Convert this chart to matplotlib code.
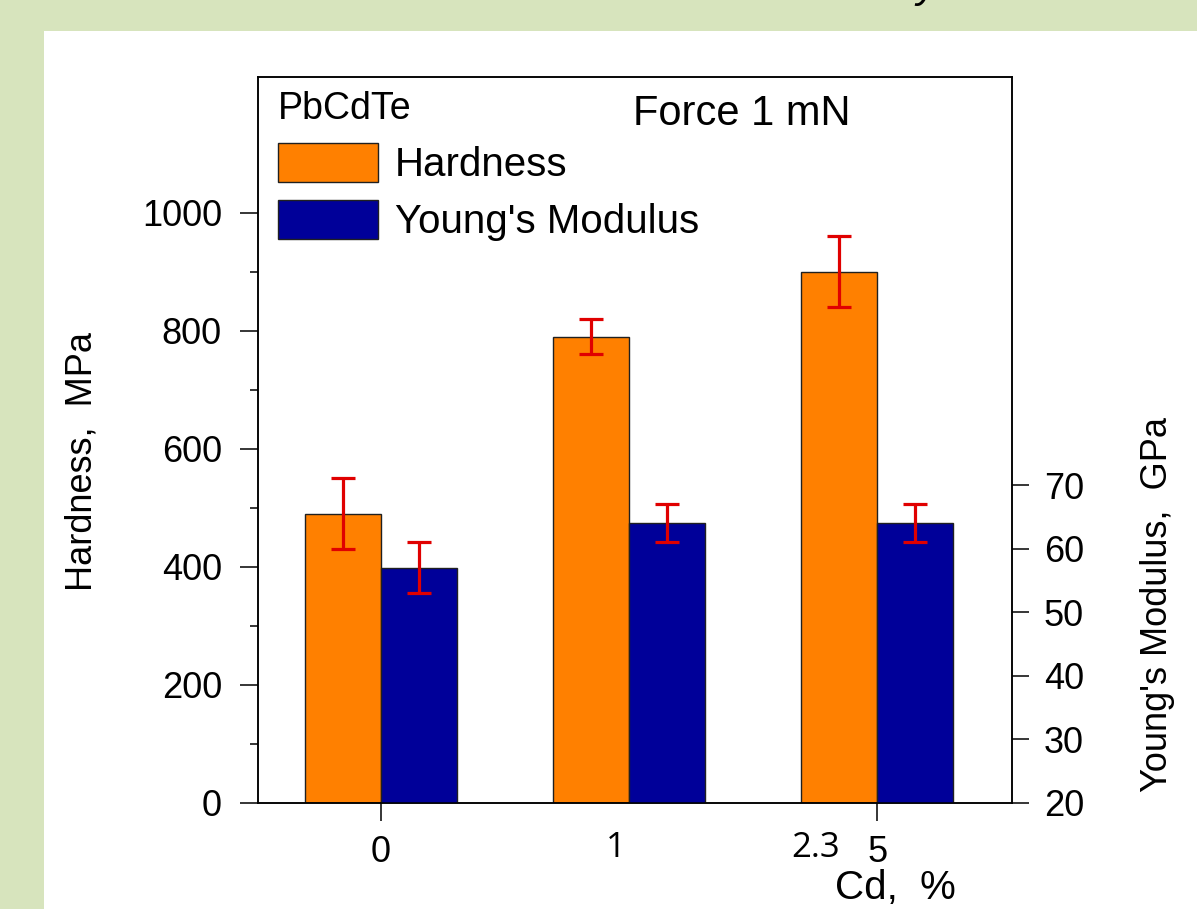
import matplotlib
matplotlib.use('Agg')
import matplotlib.pyplot as plt
from matplotlib.patches import Rectangle
import matplotlib.transforms as mtransforms

plt.rcParams['font.family'] = ['Liberation Sans', 'DejaVu Sans']

groups = [0, 1, 2]
hardness = [490, 790, 900]
hardness_err = [60, 30, 60]
young = [57, 64, 64]
young_err = [4, 3, 3]
tick_pos = [0, 2]
tick_labels = ['0', '5']
extra_labels = [(0.948, '1'), (1.75, '2.3')]

W, H = 1197, 909
fig = plt.figure(figsize=(W / 100, H / 100), dpi=100)
fig.patch.set_facecolor('#d7e4bd')
fig.patches.append(Rectangle((44 / W, 0), 1 - 44 / W, 1 - 31 / H, transform=fig.transFigure,
                             facecolor='white', edgecolor='none', zorder=-10))
# descender of a cut-off title line
fig.text(927 / W, 1 + 3 / H, 'y', fontsize=30, va='baseline', ha='center', style='italic')

ax = fig.add_axes([258 / W, 1 - 803 / H, (1012 - 258) / W, (803 - 77) / H])
ax.set_facecolor('none')
ax2 = ax.twinx()

bw = 0.305
err_kw = dict(ecolor='#e00000', elinewidth=2.3, capsize=8.3, capthick=2.3)
hb = ax.bar([g - bw / 2 for g in groups], hardness, bw, yerr=hardness_err, color='#ff8000',
            edgecolor='#202020', linewidth=1.0, label='Hardness', error_kw=err_kw)
yb = ax2.bar([g + bw / 2 for g in groups], young, bw, yerr=young_err, color='#000099',
             edgecolor='#202020', linewidth=1.0, label="Young's Modulus", error_kw=err_kw)

ax.set_xlim(-0.496, 2.544)
ax.set_ylim(0, 1230)
ax2.set_ylim(20, 134.2)

ax.set_xticks(tick_pos)
ax.set_xticklabels(tick_labels)
ax.set_yticks(range(0, 1001, 200))
ax.set_yticks(range(100, 1000, 200), minor=True)
ax2.set_yticks(range(20, 71, 10))

ax.tick_params(axis='both', which='major', direction='out', length=13, width=1.1,
               labelsize=26, pad=13)
ax.tick_params(axis='y', which='minor', direction='out', length=6, width=1.1)
ax.tick_params(axis='x', pad=10)
ax2.tick_params(axis='y', direction='out', length=12, width=1.1, labelsize=26, pad=11)
for a in (ax, ax2):
    for s in a.spines.values():
        s.set_linewidth(1.1)

for xv, txt in extra_labels:
    ax.text(xv, -0.074, txt, transform=mtransforms.blended_transform_factory(ax.transData, ax.transAxes),
            ha='center', va='baseline', fontsize=25,
            family=['Liberation Sans Narrow', 'Open Sans', 'DejaVu Sans'])

ax.set_ylabel('Hardness,  MPa', fontsize=26)
ax.yaxis.set_label_coords(-0.21, 0.471)
ax2.set_ylabel("Young's Modulus,  GPa", fontsize=26)
ax2.yaxis.set_label_coords(1.17, 0.273)

fig.text(835 / W, 2 / H, 'Cd,  %', fontsize=29, ha='left', va='bottom')
ax.text(0.497, 0.934, 'Force 1 mN', transform=ax.transAxes, fontsize=30, ha='left', va='baseline')

leg = ax2.legend([hb, yb], ['Hardness', "Young's Modulus"], loc='upper left',
                 bbox_to_anchor=(0.008, 1.0), borderaxespad=0, borderpad=0.35, frameon=False,
                 fontsize=29, title='PbCdTe', title_fontsize=27, alignment='left',
                 handlelength=2.47, handleheight=1.1, handletextpad=0.42, labelspacing=0.4)

plt.savefig('out.png', dpi=100, facecolor=fig.get_facecolor())
